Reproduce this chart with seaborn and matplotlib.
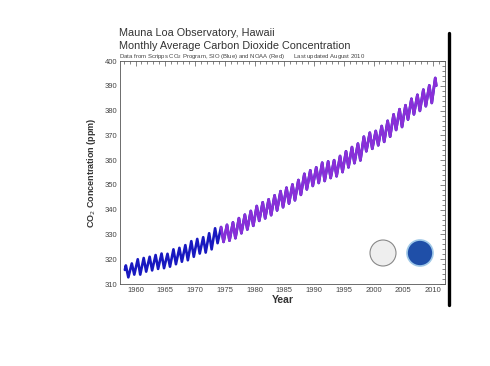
import pandas as pd
import matplotlib.pyplot as plt
import seaborn as sns
from matplotlib.patches import Ellipse
from matplotlib.lines import Line2D

# Seasonal high (May) and low (October) monthly means, ppm
years = list(range(1958, 2011))
may_high = [317.5, 318.3, 320.0, 320.5, 321.0, 321.7, 322.3, 322.2, 324.0, 324.6,
            325.7, 327.3, 328.2, 328.9, 330.5, 332.5, 333.0, 333.9, 334.9, 336.6,
            338.0, 339.5, 341.5, 343.0, 344.2, 345.8, 347.5, 348.9, 350.2, 352.0,
            354.5, 355.9, 357.1, 359.0, 359.5, 360.0, 361.7, 363.6, 365.3, 366.7,
            369.5, 371.1, 371.8, 373.8, 375.9, 378.5, 380.6, 382.2, 384.8, 386.4,
            388.5, 390.2, 393.2]
oct_low = [312.7, 313.8, 313.8, 315.0, 315.5, 316.1, 316.4, 317.0, 318.0, 319.0,
           319.6, 321.0, 322.3, 322.7, 324.0, 326.5, 327.0, 327.5, 328.5, 330.5,
           332.0, 333.5, 335.5, 336.5, 337.8, 339.7, 341.0, 342.5, 343.8, 346.0,
           348.2, 349.6, 350.8, 351.6, 352.8, 353.5, 355.2, 357.1, 358.8, 359.9,
           363.6, 364.6, 366.0, 367.4, 369.5, 372.2, 373.4, 376.4, 378.5, 379.9,
           381.8, 383.1]
first_month = ('1958-03', 315.7)
last_month = ('2010-07', 390.1)
noaa_from = 1974

rows = [first_month]
for i, y in enumerate(years):
    rows.append((f'{y}-05', may_high[i]))
    if i < len(oct_low):
        rows.append((f'{y}-10', oct_low[i]))
rows.append(last_month)

df = pd.DataFrame(rows, columns=['month', 'co2'])
d = pd.to_datetime(df['month'])
df['year'] = d.dt.year + (d.dt.month - 0.5) / 12
noaa = df[df['year'] >= noaa_from + 0.3]

sns.set_style('white')
plt.rcParams['font.family'] = ['Liberation Sans', 'DejaVu Sans']

fig = plt.figure(figsize=(4.9, 3.66), dpi=100)
ax = fig.add_axes([0.245, 0.224, 0.663, 0.609])

sns.lineplot(data=df, x='year', y='co2', color='#1818c0', lw=1.9, ax=ax, sort=False)
sns.lineplot(data=noaa, x='year', y='co2', color='#8a2fd8', lw=1.9, ax=ax, sort=False)

ax.set_xlim(1957.4, 2012.0)
ax.set_ylim(310, 400)
ax.set_xticks(range(1960, 2011, 5))
ax.set_xticks(range(1958, 2012), minor=True)
ax.set_yticks(range(310, 401, 10))
ax.set_yticks(range(310, 401, 2), minor=True)
ax.tick_params(which='both', direction='in', top=True, right=True,
               labelsize=5.5, labelcolor='#444444', color='#555555', width=0.5, pad=2)
ax.tick_params(which='major', length=3.5)
ax.tick_params(which='minor', length=2)
for s in ax.spines.values():
    s.set_linewidth(0.6)
    s.set_color('#555555')

ax.set_xlabel('Year', fontsize=7.5, fontweight='bold', color='#333333', labelpad=1)
ax.set_ylabel('CO$_2$ Concentration (ppm)', fontsize=6.5, fontweight='bold',
              color='#333333', labelpad=5)

fig.text(0.243, 0.91, 'Mauna Loa Observatory, Hawaii', fontsize=7.8, color='#333333', va='center')
fig.text(0.243, 0.874, 'Monthly Average Carbon Dioxide Concentration', fontsize=7.8,
         color='#333333', va='center')
fig.text(0.243, 0.845, 'Data from Scripps CO$_2$ Program, SIO (Blue) and NOAA (Red)'
         '      Last updated August 2010', fontsize=4.3, color='#444444', va='center')

# stand-ins for the two agency logos
fig.add_artist(Ellipse((383 / 490, 1 - 253 / 366), 26 / 490, 26 / 366,
                       transform=fig.transFigure, facecolor='#eeeeee',
                       edgecolor='#888888', lw=0.8))
fig.add_artist(Ellipse((420 / 490, 1 - 253 / 366), 26 / 490, 26 / 366,
                       transform=fig.transFigure, facecolor='#1f4fa8',
                       edgecolor='#9fc8e8', lw=1.2))

# dark bar at the right edge of the original image
fig.add_artist(Line2D([0.917, 0.917], [0.167, 0.91], transform=fig.transFigure,
                      color='black', lw=2.4))

fig.savefig('out.png', dpi=100)
